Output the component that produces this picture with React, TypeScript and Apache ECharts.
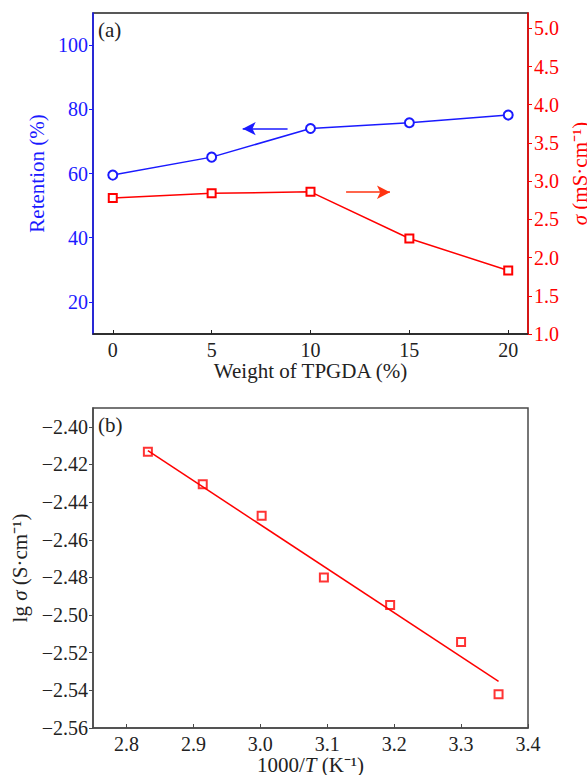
import React, { useEffect, useRef } from "react";
import * as echarts from "echarts";

// ---------- data (a) ----------
const weights = [0, 5, 10, 15, 20];
const retention = [59.5, 65.1, 74.0, 75.8, 78.2];
const sigma = [2.78, 2.84, 2.86, 2.25, 1.83];
const weightTicks = [0, 5, 10, 15, 20];
const retentionTicks = [20, 40, 60, 80, 100];
const sigmaTicks = [1.0, 1.5, 2.0, 2.5, 3.0, 3.5, 4.0, 4.5, 5.0];
// arrow annotations [x0, x1, y]
const blueArrow = [8.84, 6.57, 73.97];
const redArrow = [11.8, 14.02, 2.855];

// ---------- data (b) ----------
const invT = [2.832, 2.914, 3.002, 3.095, 3.194, 3.3, 3.356];
const lgSigma = [-2.4132, -2.4305, -2.4472, -2.48, -2.4947, -2.5143, -2.5421];
const fitX = [2.832, 3.356];
const fitY = [-2.4127, -2.5352];
const invTTicks = [2.8, 2.9, 3.0, 3.1, 3.2, 3.3, 3.4];
const lgTicks = [-2.56, -2.54, -2.52, -2.5, -2.48, -2.46, -2.44, -2.42, -2.4];

const FONT = "Liberation Serif";
const BLUE = "#1a1aff";
const RED = "#ff0000";
const DARK = "#222222";
const GRAY = "#4a4a4a";
const TICK_FS = 20;
const NAME_FS = 21;

const minus = (s: string) => s.replace("-", "\u2212");

export default function App() {
  const ref = useRef<HTMLDivElement>(null);
  useEffect(() => {
    if (!ref.current) return;
    const chart = echarts.init(ref.current, undefined, { renderer: "svg" });
    const tickLabel = (color: string) => ({
      fontFamily: FONT,
      fontSize: TICK_FS,
      color,
    });
    const option: any = {
      animation: false,
      backgroundColor: "#ffffff",
      textStyle: { fontFamily: FONT },
      grid: [
        { left: 93, top: 13, width: 435, height: 321, containLabel: false, outerBoundsMode: "none", show: true, borderColor: DARK, borderWidth: 1.5, backgroundColor: "transparent" },
        { left: 93, top: 408, width: 435, height: 320, containLabel: false, outerBoundsMode: "none", show: true, borderColor: GRAY, borderWidth: 1.5, backgroundColor: "transparent" },
      ],
      xAxis: [
        {
          gridIndex: 0,
          type: "value",
          min: -1,
          max: 21,
          axisLine: { show: true, onZero: false, lineStyle: { color: DARK, width: 1.5 } },
          axisTick: { show: true, inside: true, length: 4, customValues: weightTicks, lineStyle: { color: DARK } },
          axisLabel: { ...tickLabel(DARK), margin: 6, customValues: weightTicks },
          splitLine: { show: false },
          name: "Weight of TPGDA (%)",
          nameLocation: "middle",
          nameGap: 26,
          nameTextStyle: { fontFamily: FONT, fontSize: NAME_FS, color: DARK },
        },
        {
          gridIndex: 1,
          type: "value",
          min: 2.75,
          max: 3.4,
          axisLine: { show: true, onZero: false, lineStyle: { color: GRAY, width: 1.5 } },
          axisTick: { show: true, inside: true, length: 4, customValues: invTTicks, lineStyle: { color: GRAY } },
          axisLabel: { ...tickLabel(DARK), margin: 6, customValues: invTTicks, formatter: (v: number) => v.toFixed(1) },
          splitLine: { show: false },
          name: "1000/{i|T} (K\u207B\u00B9)",
          nameLocation: "middle",
          nameGap: 22,
          nameTextStyle: {
            fontFamily: FONT,
            fontSize: NAME_FS,
            color: DARK,
            rich: { i: { fontFamily: FONT, fontSize: NAME_FS, fontStyle: "italic", color: DARK } },
          },
        },
      ],
      yAxis: [
        {
          gridIndex: 0,
          type: "value",
          position: "left",
          min: 10,
          max: 110,
          axisLine: { show: true, onZero: false, lineStyle: { color: BLUE, width: 1.5 } },
          axisTick: { show: true, inside: false, length: 4, customValues: retentionTicks, lineStyle: { color: BLUE } },
          axisLabel: { ...tickLabel(BLUE), margin: 5, customValues: retentionTicks },
          splitLine: { show: false },
          name: "Retention (%)",
          nameLocation: "middle",
          nameRotate: 90,
          nameGap: 42,
          nameTextStyle: { fontFamily: FONT, fontSize: NAME_FS, color: BLUE },
        },
        {
          gridIndex: 0,
          type: "value",
          position: "right",
          min: 1,
          max: 5.2,
          axisLine: { show: true, onZero: false, lineStyle: { color: RED, width: 1.5 } },
          axisTick: { show: true, inside: false, length: 4, customValues: sigmaTicks, lineStyle: { color: RED } },
          axisLabel: { ...tickLabel(RED), margin: 6, customValues: sigmaTicks, formatter: (v: number) => v.toFixed(1) },
          splitLine: { show: false },
          name: "{i|σ} (mS·cm\u207B\u00B9)",
          nameLocation: "middle",
          nameRotate: 90,
          nameGap: 32,
          nameTextStyle: {
            fontFamily: FONT,
            fontSize: NAME_FS,
            color: RED,
            rich: { i: { fontFamily: FONT, fontSize: NAME_FS, fontStyle: "italic", color: RED } },
          },
        },
        {
          gridIndex: 1,
          type: "value",
          position: "left",
          min: -2.56,
          max: -2.39,
          axisLine: { show: true, onZero: false, lineStyle: { color: GRAY, width: 1.5 } },
          axisTick: { show: true, inside: false, length: 4, customValues: lgTicks, lineStyle: { color: GRAY } },
          axisLabel: { ...tickLabel(DARK), margin: 5, customValues: lgTicks, formatter: (v: number) => minus(v.toFixed(2)) },
          splitLine: { show: false },
          name: "lg {i|σ} (S·cm\u207B\u00B9)",
          nameLocation: "middle",
          nameRotate: 90,
          nameGap: 61,
          nameTextStyle: {
            fontFamily: FONT,
            fontSize: NAME_FS,
            color: DARK,
            rich: { i: { fontFamily: FONT, fontSize: NAME_FS, fontStyle: "italic", color: DARK } },
          },
        },
      ],
      series: [
        {
          type: "line",
          xAxisIndex: 0,
          yAxisIndex: 0,
          data: weights.map((w, i) => [w, retention[i]]),
          symbol: "emptyCircle",
          symbolSize: 9,
          itemStyle: { color: BLUE, borderWidth: 1.5 },
          lineStyle: { color: BLUE, width: 1.5 },
          markLine: {
            silent: true,
            symbol: ["none", "arrow"],
            symbolSize: [10, 13],
            label: { show: false },
            lineStyle: { color: BLUE, width: 1.5, type: "solid" },
            data: [[{ coord: [blueArrow[0], blueArrow[2]] }, { coord: [blueArrow[1], blueArrow[2]] }]],
          },
        },
        {
          type: "line",
          xAxisIndex: 0,
          yAxisIndex: 1,
          data: weights.map((w, i) => [w, sigma[i]]),
          symbol: "emptyRect",
          symbolSize: 8,
          itemStyle: { color: RED, borderWidth: 1.5 },
          lineStyle: { color: RED, width: 1.5 },
          markLine: {
            silent: true,
            symbol: ["none", "arrow"],
            symbolSize: [10, 13],
            label: { show: false },
            lineStyle: { color: "#ff3311", width: 1.5, type: "solid" },
            data: [[{ coord: [redArrow[0], redArrow[2]] }, { coord: [redArrow[1], redArrow[2]] }]],
          },
        },
        {
          type: "line",
          xAxisIndex: 1,
          yAxisIndex: 2,
          data: fitX.map((x, i) => [x, fitY[i]]),
          symbol: "none",
          lineStyle: { color: RED, width: 1.5 },
        },
        {
          type: "scatter",
          xAxisIndex: 1,
          yAxisIndex: 2,
          data: invT.map((x, i) => [x, lgSigma[i]]),
          symbol: "emptyRect",
          symbolSize: 8,
          itemStyle: { color: RED, borderColor: RED, borderWidth: 1.5 },
        },
      ],
      graphic: [
        { type: "text", left: 98, top: 19, style: { text: "(a)", font: `21px ${FONT}`, fill: DARK } },
        { type: "text", left: 98, top: 414, style: { text: "(b)", font: `21px ${FONT}`, fill: DARK } },
      ],
    };
    chart.setOption(option);
    return () => chart.dispose();
  }, []);
  return (
    <div
      ref={ref}
      style={{ position: "fixed", left: 0, top: 0, width: 587, height: 775, background: "#fff" }}
    />
  );
}
